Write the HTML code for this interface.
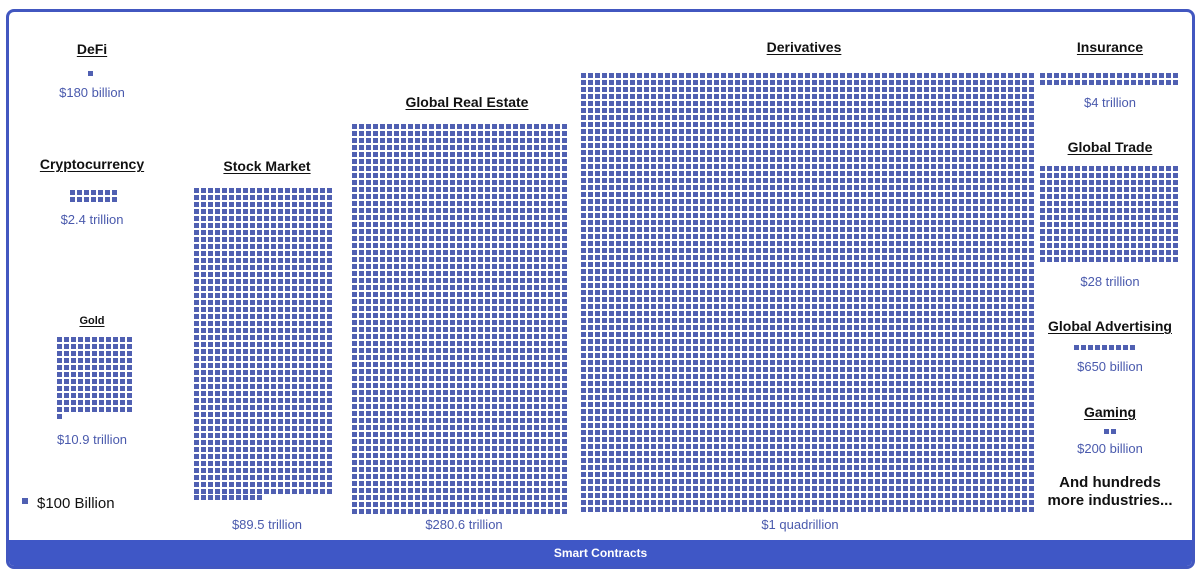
<!DOCTYPE html>
<html><head><meta charset="utf-8"><style>
*{margin:0;padding:0;box-sizing:border-box}
body{width:1200px;height:577px;background:#fff;position:relative;overflow:hidden;font-family:"Liberation Sans",sans-serif}
.frame{position:absolute;left:6px;top:9px;width:1189px;height:560px;border:3px solid #4257c0;border-radius:8px;overflow:hidden}
.bar{position:absolute;left:0;right:0;bottom:0;height:26px;background:#3f57c6;color:#fff;font-weight:bold;font-size:12px;text-align:center;line-height:26px}
.t{position:absolute;width:300px;text-align:center;font-weight:bold;color:#111;font-size:14px;line-height:16px}
.t span{text-decoration:underline;text-underline-offset:2px}
.v{position:absolute;width:300px;text-align:center;color:#4a5aad;font-size:13px;line-height:16px}
.g{position:absolute;background-color:#5060b2;background-image:linear-gradient(90deg,#fff 2px,transparent 2px),linear-gradient(#fff 2px,transparent 2px);background-size:7px 7px;background-position:-2px -2px}
</style></head><body>
<div class="frame"><div class="bar">Smart Contracts</div></div>

<div class="t" style="left:-58px;top:41px"><span>DeFi</span></div>
<div class="g" style="left:88px;top:71px;width:5px;height:5px"></div>
<div class="v" style="left:-58px;top:85px">$180 billion</div>

<div class="t" style="left:-58px;top:156px"><span>Cryptocurrency</span></div>
<div class="g" style="left:70px;top:190px;width:47px;height:12px"></div>
<div class="v" style="left:-58px;top:212px">$2.4 trillion</div>

<div class="t" style="left:-58px;top:313px;font-size:11px"><span>Gold</span></div>
<div class="g" style="left:57px;top:337px;width:75px;height:75px"></div>
<div class="g" style="left:57px;top:414px;width:5px;height:5px"></div>
<div class="v" style="left:-58px;top:432px">$10.9 trillion</div>

<div class="g" style="left:22px;top:498px;width:6px;height:6px;background-image:none"></div>
<div style="position:absolute;left:37px;top:495px;font-size:15px;color:#111">$100 Billion</div>

<div class="t" style="left:117px;top:158px"><span>Stock Market</span></div>
<div class="g" style="left:194px;top:188px;width:138px;height:306px"></div>
<div class="g" style="left:194px;top:495px;width:68px;height:5px"></div>
<div class="v" style="left:117px;top:517px">$89.5 trillion</div>

<div class="t" style="left:317px;top:94px"><span>Global Real Estate</span></div>
<div class="g" style="left:352px;top:124px;width:215px;height:390px"></div>
<div class="v" style="left:314px;top:517px">$280.6 trillion</div>

<div class="t" style="left:654px;top:39px"><span>Derivatives</span></div>
<div class="g" style="left:581px;top:73px;width:453px;height:439px"></div>
<div class="v" style="left:650px;top:517px">$1 quadrillion</div>

<div class="t" style="left:960px;top:39px"><span>Insurance</span></div>
<div class="g" style="left:1040px;top:73px;width:138px;height:12px"></div>
<div class="v" style="left:960px;top:95px">$4 trillion</div>

<div class="t" style="left:960px;top:139px"><span>Global Trade</span></div>
<div class="g" style="left:1040px;top:166px;width:138px;height:96px"></div>
<div class="v" style="left:960px;top:274px">$28 trillion</div>

<div class="t" style="left:960px;top:318px"><span>Global Advertising</span></div>
<div class="g" style="left:1074px;top:345px;width:61px;height:5px"></div>
<div class="v" style="left:960px;top:359px">$650 billion</div>

<div class="t" style="left:960px;top:404px"><span>Gaming</span></div>
<div class="g" style="left:1104px;top:429px;width:12px;height:5px"></div>
<div class="v" style="left:960px;top:441px">$200 billion</div>

<div class="t" style="left:960px;top:474px;font-size:15px;line-height:18px">And hundreds<br>more industries...</div>
</body></html>
